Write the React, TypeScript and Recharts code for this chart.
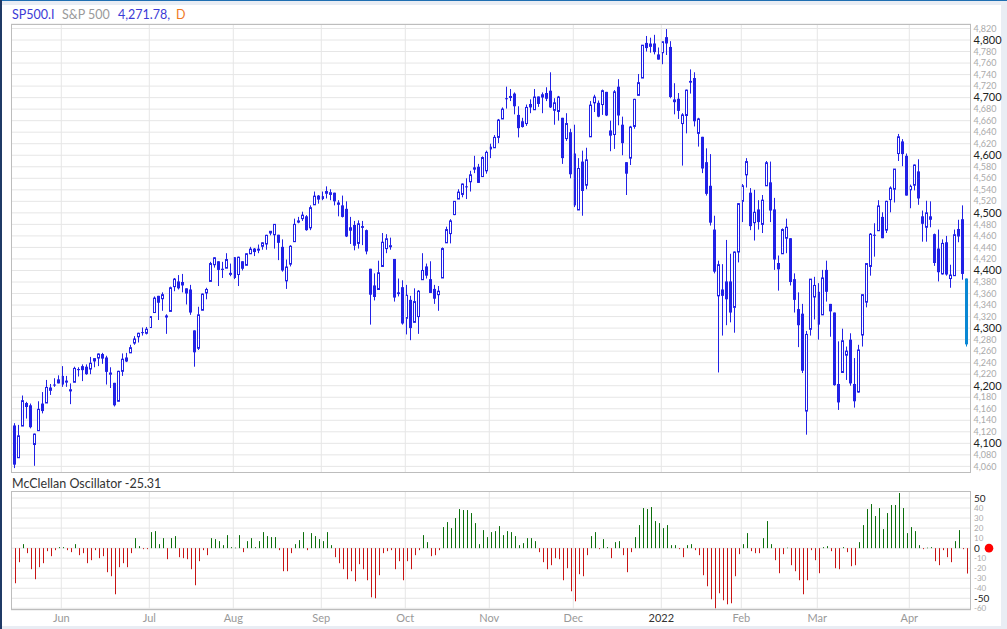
import React from "react";
import { ComposedChart, Bar, XAxis, YAxis, CartesianGrid, ReferenceLine } from "recharts";

// trading sessions drawn, per month (the feed has no 25 May 2021 bar)
const sessions: [string, string, number[]][] = [
  ["2021-05", "", [12, 13, 14, 17, 18, 19, 20, 21, 24, 26, 27, 28]],
  ["2021-06", "Jun", [1, 2, 3, 4, 7, 8, 9, 10, 11, 14, 15, 16, 17, 18, 21, 22, 23, 24, 25, 28, 29, 30]],
  ["2021-07", "Jul", [1, 2, 6, 7, 8, 9, 12, 13, 14, 15, 16, 19, 20, 21, 22, 23, 26, 27, 28, 29, 30]],
  ["2021-08", "Aug", [2, 3, 4, 5, 6, 9, 10, 11, 12, 13, 16, 17, 18, 19, 20, 23, 24, 25, 26, 27, 30, 31]],
  ["2021-09", "Sep", [1, 2, 3, 7, 8, 9, 10, 13, 14, 15, 16, 17, 20, 21, 22, 23, 24, 27, 28, 29, 30]],
  ["2021-10", "Oct", [1, 4, 5, 6, 7, 8, 11, 12, 13, 14, 15, 18, 19, 20, 21, 22, 25, 26, 27, 28, 29]],
  ["2021-11", "Nov", [1, 2, 3, 4, 5, 8, 9, 10, 11, 12, 15, 16, 17, 18, 19, 22, 23, 24, 26, 29, 30]],
  ["2021-12", "Dec", [1, 2, 3, 6, 7, 8, 9, 10, 13, 14, 15, 16, 17, 20, 21, 22, 23, 27, 28, 29, 30, 31]],
  ["2022-01", "2022", [3, 4, 5, 6, 7, 10, 11, 12, 13, 14, 18, 19, 20, 21, 24, 25, 26, 27, 28, 31]],
  ["2022-02", "Feb", [1, 2, 3, 4, 7, 8, 9, 10, 11, 14, 15, 16, 17, 18, 22, 23, 24, 25, 28]],
  ["2022-03", "Mar", [1, 2, 3, 4, 7, 8, 9, 10, 11, 14, 15, 16, 17, 18, 21, 22, 23, 24, 25, 28, 29, 30, 31]],
  ["2022-04", "Apr", [1, 4, 5, 6, 7, 8, 11, 12, 13, 14, 18, 19, 20, 21, 22]],
];

const opens = [
  4131, 4075, 4130, 4170, 4166, 4098, 4122, 4169, 4170, 4192, 4202, 4211,
  4217, 4207, 4191, 4206, 4229, 4234, 4233, 4229, 4243, 4248, 4255, 4249, 4220, 4205, 4173, 4225, 4249, 4257, 4274, 4285, 4293, 4291,
  4301, 4327, 4356, 4351, 4321, 4329, 4372, 4381, 4380, 4369, 4367, 4296, 4265, 4331, 4361, 4381, 4410, 4416, 4403, 4404, 4395,
  4423, 4393, 4416, 4409, 4429, 4438, 4436, 4442, 4446, 4465, 4462, 4462, 4441, 4382, 4411, 4450, 4484, 4490, 4494, 4474, 4514, 4530,
  4529, 4534, 4532, 4535, 4518, 4513, 4507, 4475, 4479, 4447, 4477, 4470, 4403, 4374, 4367, 4407, 4438, 4442, 4420, 4362, 4371,
  4317, 4349, 4310, 4320, 4384, 4407, 4385, 4368, 4358, 4387, 4448, 4464, 4497, 4524, 4532, 4546, 4554, 4579, 4580, 4563, 4573,
  4611, 4613, 4631, 4663, 4699, 4701, 4707, 4670, 4659, 4655, 4689, 4679, 4702, 4701, 4708, 4712, 4678, 4676, 4665, 4629, 4640,
  4603, 4505, 4589, 4548, 4632, 4691, 4691, 4688, 4710, 4643, 4636, 4719, 4653, 4588, 4595, 4650, 4704, 4734, 4795, 4789, 4794, 4775,
  4778, 4805, 4788, 4693, 4698, 4655, 4669, 4729, 4734, 4638, 4632, 4588, 4547, 4471, 4356, 4367, 4381, 4381, 4336, 4432,
  4520, 4566, 4535, 4483, 4506, 4480, 4547, 4553, 4506, 4413, 4429, 4456, 4456, 4385, 4333, 4325, 4156, 4298, 4354,
  4363, 4323, 4401, 4342, 4327, 4203, 4223, 4253, 4280, 4203, 4189, 4288, 4345, 4407, 4462, 4469, 4493, 4470, 4523, 4541, 4603, 4624, 4599,
  4540, 4548, 4572, 4494, 4475, 4494, 4463, 4438, 4394, 4449, 4386, 4391, 4472, 4489, 4386,
];

const highs = [
  4135, 4132, 4183, 4172, 4169, 4117, 4173, 4189, 4210, 4203, 4213, 4218,
  4234, 4217, 4204, 4233, 4232, 4237, 4237, 4250, 4248, 4256, 4257, 4252, 4232, 4205, 4226, 4256, 4257, 4271, 4286, 4292, 4301, 4302,
  4321, 4355, 4356, 4362, 4324, 4372, 4387, 4392, 4394, 4369, 4375, 4296, 4337, 4360, 4370, 4415, 4423, 4416, 4415, 4430, 4412,
  4423, 4424, 4416, 4430, 4441, 4439, 4445, 4449, 4462, 4468, 4480, 4462, 4454, 4419, 4444, 4490, 4493, 4502, 4496, 4513, 4537, 4531,
  4537, 4546, 4541, 4535, 4522, 4530, 4520, 4493, 4486, 4487, 4486, 4471, 4403, 4395, 4417, 4465, 4463, 4457, 4420, 4386, 4383,
  4375, 4356, 4369, 4366, 4430, 4412, 4416, 4375, 4373, 4440, 4476, 4489, 4520, 4541, 4551, 4560, 4573, 4599, 4585, 4598, 4608,
  4620, 4635, 4663, 4683, 4719, 4715, 4709, 4685, 4665, 4688, 4697, 4715, 4702, 4709, 4718, 4744, 4699, 4703, 4665, 4673, 4646,
  4653, 4595, 4608, 4613, 4694, 4705, 4695, 4714, 4710, 4660, 4713, 4732, 4667, 4588, 4651, 4698, 4741, 4791, 4807, 4804, 4809, 4787,
  4797, 4819, 4798, 4725, 4708, 4673, 4714, 4749, 4744, 4665, 4632, 4612, 4602, 4495, 4417, 4411, 4453, 4429, 4433, 4517,
  4550, 4595, 4543, 4540, 4522, 4531, 4590, 4589, 4526, 4426, 4473, 4490, 4456, 4395, 4362, 4342, 4295, 4385, 4389,
  4378, 4401, 4417, 4342, 4327, 4277, 4299, 4268, 4291, 4248, 4271, 4358, 4413, 4465, 4482, 4522, 4501, 4521, 4546, 4576, 4637, 4628, 4603,
  4549, 4584, 4593, 4504, 4521, 4520, 4464, 4471, 4454, 4460, 4410, 4471, 4488, 4513, 4386,
];

const lows = [
  4057, 4075, 4130, 4143, 4126, 4061, 4122, 4152, 4170, 4184, 4198, 4204,
  4198, 4198, 4168, 4206, 4216, 4208, 4219, 4220, 4232, 4234, 4238, 4202, 4196, 4164, 4173, 4217, 4241, 4257, 4271, 4275, 4287, 4289,
  4301, 4327, 4314, 4330, 4290, 4329, 4364, 4367, 4362, 4341, 4323, 4233, 4262, 4331, 4350, 4381, 4405, 4373, 4387, 4404, 4390,
  4385, 4373, 4400, 4409, 4429, 4425, 4430, 4436, 4436, 4461, 4438, 4418, 4398, 4368, 4407, 4450, 4482, 4486, 4469, 4470, 4514, 4516,
  4522, 4525, 4522, 4513, 4494, 4492, 4458, 4446, 4435, 4438, 4444, 4428, 4306, 4348, 4367, 4407, 4430, 4436, 4346, 4355, 4306,
  4289, 4279, 4310, 4290, 4384, 4386, 4361, 4342, 4330, 4387, 4448, 4447, 4496, 4524, 4527, 4524, 4537, 4569, 4552, 4563, 4568,
  4595, 4613, 4621, 4663, 4681, 4694, 4671, 4631, 4648, 4651, 4673, 4679, 4684, 4673, 4694, 4682, 4653, 4660, 4585, 4625, 4560,
  4510, 4505, 4495, 4541, 4632, 4675, 4666, 4670, 4668, 4607, 4611, 4652, 4600, 4531, 4583, 4646, 4704, 4734, 4780, 4778, 4775, 4766,
  4758, 4774, 4699, 4671, 4663, 4582, 4638, 4707, 4650, 4615, 4569, 4530, 4478, 4395, 4223, 4287, 4305, 4310, 4292, 4414,
  4484, 4544, 4470, 4452, 4471, 4465, 4547, 4484, 4401, 4365, 4429, 4430, 4374, 4327, 4267, 4222, 4115, 4287, 4315,
  4280, 4323, 4346, 4285, 4200, 4158, 4223, 4210, 4200, 4162, 4188, 4268, 4336, 4391, 4424, 4469, 4456, 4465, 4501, 4518, 4590, 4581, 4530,
  4508, 4539, 4514, 4450, 4450, 4475, 4408, 4381, 4393, 4391, 4370, 4391, 4449, 4384, 4268,
];

const closes = [
  4063, 4113, 4174, 4163, 4128, 4116, 4159, 4156, 4197, 4196, 4201, 4204,
  4202, 4208, 4193, 4230, 4227, 4227, 4220, 4239, 4247, 4255, 4247, 4224, 4222, 4166, 4225, 4246, 4242, 4266, 4281, 4291, 4292, 4298,
  4320, 4352, 4344, 4358, 4321, 4370, 4385, 4369, 4374, 4360, 4327, 4258, 4323, 4359, 4367, 4412, 4422, 4401, 4401, 4419, 4395,
  4387, 4423, 4403, 4429, 4437, 4432, 4437, 4448, 4461, 4468, 4480, 4448, 4400, 4406, 4442, 4480, 4486, 4496, 4470, 4509, 4529, 4523,
  4524, 4537, 4535, 4520, 4514, 4493, 4459, 4469, 4443, 4481, 4474, 4433, 4358, 4354, 4396, 4449, 4455, 4443, 4353, 4359, 4308,
  4357, 4300, 4346, 4364, 4400, 4391, 4361, 4351, 4364, 4438, 4471, 4486, 4520, 4536, 4550, 4545, 4566, 4575, 4552, 4596, 4605,
  4614, 4631, 4661, 4680, 4698, 4702, 4685, 4647, 4649, 4683, 4683, 4701, 4689, 4705, 4698, 4683, 4691, 4701, 4595, 4655, 4567,
  4513, 4577, 4538, 4592, 4687, 4701, 4667, 4712, 4669, 4634, 4710, 4669, 4621, 4568, 4649, 4697, 4726, 4791, 4786, 4793, 4779, 4766,
  4797, 4794, 4701, 4696, 4677, 4670, 4713, 4726, 4659, 4663, 4577, 4533, 4483, 4398, 4410, 4356, 4350, 4327, 4432, 4516,
  4547, 4589, 4477, 4501, 4484, 4522, 4587, 4504, 4419, 4402, 4471, 4475, 4380, 4349, 4305, 4226, 4289, 4385, 4374,
  4306, 4387, 4363, 4329, 4201, 4171, 4278, 4260, 4204, 4173, 4262, 4358, 4412, 4463, 4461, 4512, 4456, 4520, 4543, 4576, 4632, 4602, 4530,
  4546, 4583, 4525, 4481, 4500, 4488, 4413, 4397, 4447, 4393, 4392, 4462, 4459, 4394, 4271.78,
];

const mcclellan = [
  -35, -14, 4, -5, -21, -31, -19, -15, -3, -8, -2, 1,
  1, -2, -4, 4, -7, -5, -15, -12, -2, -10, -8, -24, -28, -46, -19, -15, -19, -5, 10, 2, -1, -1,
  16, 17, 4, 10, -11, 10, 12, -9, -10, -11, -21, -37, -13, -2, -7, 10, 9, 7, 3, 13, 1,
  0.5, 13, -4, 7, 10, 1, 7, 16, 12, 11, 11, -2, -23, -23, -5, 4, 8, 16, -2, 15, 12, 9,
  7, 16, 3, -9, -15, -21, -31, -23, -33, -16, -21, -32, -49, -50, -27, -5, -3, -2, -21, -13, -32,
  -13, -21, -7, -2, 13, 6, -8, -7, -2, 21, 26, 20, 30, 39, 38, 38, 35, 25, 4, 18, 11,
  16, 17, 22, 13, 17, 16, 12, 3, 5, 10, 10, 7, -4, -14, -21, -17, -10, -11, -32, -20, -43,
  -53, -26, -28, -7, 12, 16, -1, 9, 1, -10, 6, 7, -7, -24, -4, 11, 23, 40, 39, 41, 27, 25,
  20, 23, 3, 3, -1, -9, 3, 4, -2, -7, -27, -38, -51, -60, -45, -52, -56, -55, -28, -6,
  4, 15, -3, -5, -5, 10, 27, 4, -12, -25, -6, 0.5, -17, -23, -32, -46, -32, -2, -12,
  -25, 1, 2, -3, -20, -21, 1, -4, -18, -17, 6, 23, 39, 44, 32, 40, 19, 35, 43, 43, 55, 40, 15,
  21, 17, 3, -1, 0.5, 1, -13, -17, -2, -9, -14, 7, 18, -1, -25.31,
];

const priceTicks = [
  4060, 4080, 4100, 4120, 4140, 4160, 4180, 4200, 4220, 4240, 4260, 4280, 4300, 4320, 4340, 4360, 4380, 4400, 4420, 4440,
  4460, 4480, 4500, 4520, 4540, 4560, 4580, 4600, 4620, 4640, 4660, 4680, 4700, 4720, 4740, 4760, 4780, 4800, 4820,
];
const oscTicks = [-60, -50, -40, -30, -20, -10, 0, 10, 20, 30, 40, 50];

const CANDLE = "#2121e6";
const LAST = "#0a88d4";
const GREEN = "#0c6f0c";
const RED = "#c81414";
const GRID = "#e6e6e6";
const X_DOMAIN: [number, number] = [-1.075, 238.925];

const dates: string[] = [];
const monthTicks: { value: number; label: string }[] = [];
sessions.forEach(([ym, label, days]) => {
  if (label) monthTicks.push({ value: dates.length - 0.5, label });
  days.forEach((d) => dates.push(`${ym}-${String(d).padStart(2, "0")}`));
});

const n = Math.min(dates.length, opens.length, highs.length, lows.length, closes.length, mcclellan.length);
const rows = dates.slice(0, n).map((date, i) => ({
  slot: i,
  date,
  open: opens[i],
  high: highs[i],
  low: lows[i],
  close: closes[i],
  mc: mcclellan[i],
}));
const lastSlot = n - 1;

const Candle = (p: any) => {
  const { x, y, width, height, payload } = p;
  if (!payload || !Number.isFinite(y) || !Number.isFinite(x)) return null;
  const top = Math.min(y, y + height);
  const bot = Math.max(y, y + height);
  const ppu = (bot - top) / (payload.high - payload.low || 1);
  const py = (v: number) => bot - (v - payload.low) * ppu;
  // snap to the pixel grid so wicks stay crisp
  const cx = Math.floor(x + width / 2) + 0.5;
  const color = payload.slot === lastSlot ? LAST : CANDLE;
  const bTop = py(Math.max(payload.open, payload.close));
  const bh = Math.max(1, py(Math.min(payload.open, payload.close)) - bTop);
  const up = payload.close >= payload.open;
  return (
    <g>
      <line x1={cx} x2={cx} y1={top} y2={bot} stroke={color} strokeWidth={1} />
      {up ? (
        <rect x={cx - 1} y={bTop} width={2} height={bh} fill="#fff" stroke={color} strokeWidth={1} />
      ) : (
        <rect x={cx - 1.5} y={bTop} width={3} height={bh} fill={color} />
      )}
    </g>
  );
};

const OscBar = (p: any) => {
  const { x, y, width, height, payload } = p;
  if (!payload || !Number.isFinite(y) || !Number.isFinite(x)) return null;
  const top = Math.min(y, y + height);
  return (
    <rect
      x={Math.floor(x + width / 2)}
      y={top}
      width={1}
      height={Math.max(0.6, Math.abs(height))}
      fill={payload.mc >= 0 ? GREEN : RED}
    />
  );
};

const PriceTick = ({ x, y, payload }: any) => {
  const v = payload.value as number;
  const major = v % 100 === 0;
  return (
    <text x={x + 2.5} y={y} dy="0.35em" textAnchor="start" fontFamily="Lato" fontSize={major ? 11 : 9} fill={major ? "#222" : "#aaa"}>
      {v.toLocaleString("en-US")}
    </text>
  );
};

const OscTick = ({ x, y, payload }: any) => {
  const v = payload.value as number;
  const major = v % 50 === 0;
  return (
    <g>
      <text x={x + 3} y={y} dy="0.35em" textAnchor="start" fontFamily="Lato" fontSize={major ? 10 : 8} fill={major ? "#222" : "#aaa"}>
        {v}
      </text>
      {v === 0 && <circle cx={x + 18} cy={y} r={4.3} fill="#f00" />}
    </g>
  );
};

const MonthTick = ({ x, y, payload }: any) => {
  const t = monthTicks.find((m) => Math.abs(m.value - payload.value) < 1e-6);
  if (!t) return null;
  const year = /^\d{4}$/.test(t.label);
  return (
    <text x={x} y={y} dy={12} textAnchor="middle" fontFamily="Lato" fontSize={11} fill={year ? "#333" : "#999"}>
      {t.label}
    </text>
  );
};

const abs = (s: React.CSSProperties): React.CSSProperties => ({ position: "absolute", ...s });

export default function App() {
  return (
    <div style={{ position: "fixed", left: 0, top: 0, width: 1007, height: 629, background: "#e9edf4", overflow: "hidden", fontFamily: "Lato" }}>
      <div style={abs({ left: 2, top: 5, width: 999, height: 621, background: "#fff" })} />
      <div style={abs({ left: 0, top: 0, width: 1007, height: 1, background: "#1f6fb2" })} />
      <div style={abs({ left: 0, top: 0, width: 2, height: 629, background: "#1f3a66" })} />

      <div style={abs({ left: 0, top: 0 })}>
        <ComposedChart width={1007} height={473} data={rows} margin={{ top: 24, right: 0, bottom: 0, left: 11 }}>
          <CartesianGrid vertical={false} stroke={GRID} />
          <XAxis type="number" dataKey="slot" domain={X_DOMAIN} allowDataOverflow hide />
          <YAxis
            orientation="right"
            width={36}
            domain={[4048.5, 4827.8]}
            allowDataOverflow
            ticks={priceTicks}
            interval={0}
            axisLine={false}
            tickLine={false}
            tickSize={0}
            tickMargin={0}
            tick={<PriceTick />}
          />
          {monthTicks.map((m) => (
            <ReferenceLine key={m.label} x={m.value} stroke={GRID} />
          ))}
          <Bar dataKey={(d: any) => [d.low, d.high]} barSize={3} shape={Candle} isAnimationActive={false} />
        </ComposedChart>
      </div>

      <div style={abs({ left: 0, top: 491 })}>
        <ComposedChart width={1007} height={139} data={rows} margin={{ top: 0, right: 0, bottom: 0, left: 11 }}>
          <CartesianGrid vertical={false} stroke={GRID} />
          <XAxis
            type="number"
            dataKey="slot"
            domain={X_DOMAIN}
            allowDataOverflow
            ticks={monthTicks.map((m) => m.value)}
            interval={0}
            height={20}
            axisLine={false}
            tickLine={false}
            tickSize={0}
            tickMargin={0}
            tick={<MonthTick />}
          />
          <YAxis
            orientation="right"
            width={36}
            domain={[-61.7, 57]}
            allowDataOverflow
            ticks={oscTicks}
            interval={0}
            axisLine={false}
            tickLine={false}
            tickSize={0}
            tickMargin={0}
            tick={<OscTick />}
          />
          {monthTicks.map((m) => (
            <ReferenceLine key={m.label} x={m.value} stroke={GRID} />
          ))}
          <Bar dataKey="mc" barSize={2} shape={OscBar} isAnimationActive={false} />
        </ComposedChart>
      </div>

      <div style={abs({ left: 11, top: 24, width: 960, height: 449, border: "1px solid #bdbdbd", boxSizing: "border-box", pointerEvents: "none" })} />
      <div style={abs({ left: 11, top: 491, width: 960, height: 119, border: "1px solid #bdbdbd", boxSizing: "border-box", pointerEvents: "none" })} />

      <div style={abs({ left: 12, top: 8, fontSize: 12.5, lineHeight: "14px", whiteSpace: "nowrap" })}>
        <span style={abs({ left: 0, color: "#3b3bd6" })}>SP500.I</span>
        <span style={abs({ left: 50, color: "#9a9a9a" })}>S&amp;P 500</span>
        <span style={abs({ left: 106, color: "#3b3bd6" })}>4,271.78,</span>
        <span style={abs({ left: 164, color: "#f07a1e" })}>D</span>
      </div>
      <div style={abs({ left: 12, top: 476.5, fontSize: 12.5, lineHeight: "14px", color: "#333", whiteSpace: "nowrap" })}>
        McClellan Oscillator -25.31
      </div>
    </div>
  );
}
